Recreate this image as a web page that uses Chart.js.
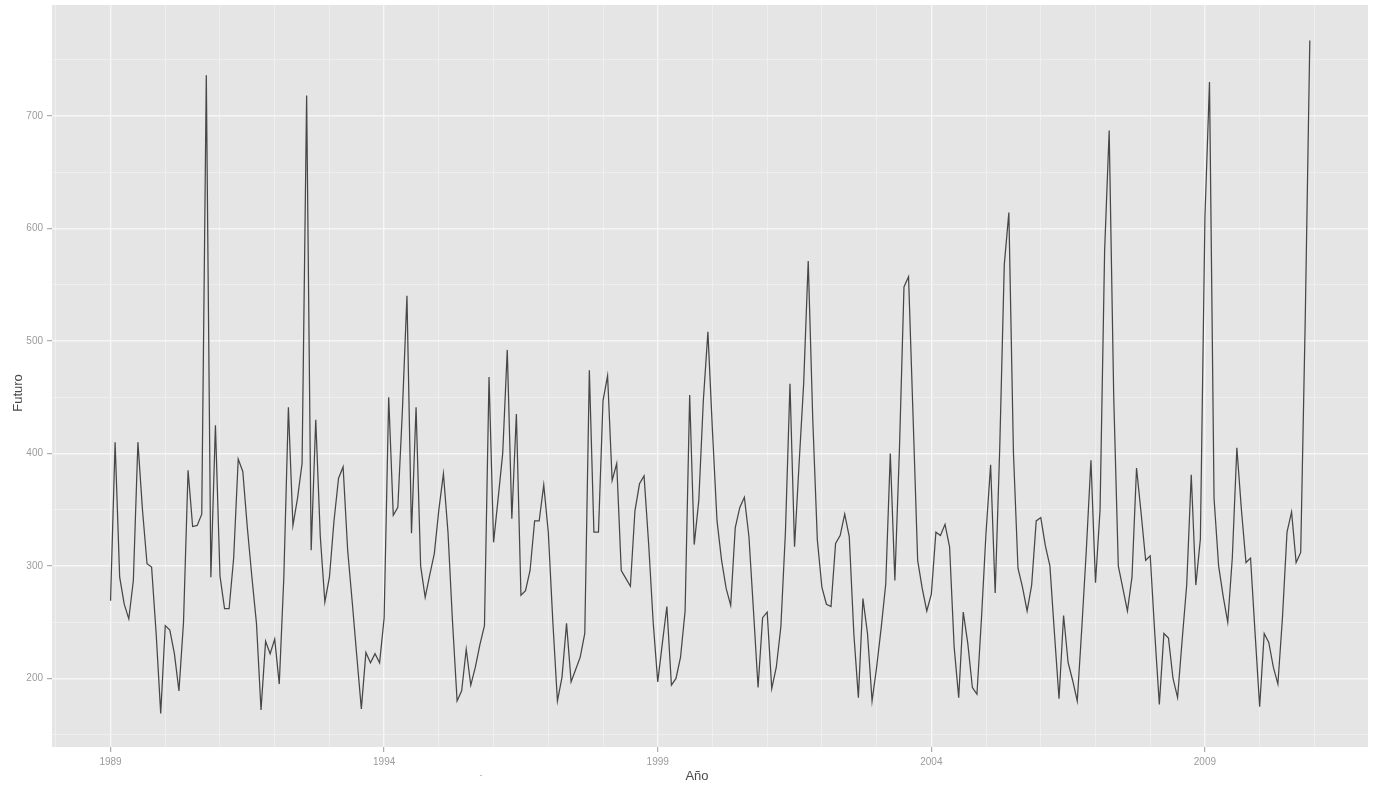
<!DOCTYPE html>
<html>
<head>
<meta charset="utf-8">
<script src="https://cdn.jsdelivr.net/npm/chart.js@4.4.0/dist/chart.umd.min.js"></script>
<style>
  html, body { margin: 0; padding: 0; background: #ffffff; }
  #wrap { width: 1375px; height: 788px; position: relative; }
</style>
</head>
<body>
<div id="wrap"><canvas id="c" width="1375" height="788"></canvas></div>
<script>
// ---- data (monthly, Jan 1989 .. Dec 2010) ----
const startYear = 1989;
const futuro = [
  269, 410, 290, 266, 253, 287, 410, 350, 302, 299, 240, 169,
  247, 243, 222, 189, 250, 385, 335, 336, 346, 736, 290, 425,
  291, 262, 262, 307, 395, 384, 334, 290, 249, 172, 233, 222,
  235, 195, 290, 441, 336, 360, 391, 718, 314, 430, 326, 268,
  290, 340, 378, 388, 314, 268, 220, 173, 223, 214, 222, 214,
  254, 450, 345, 352, 438, 540, 329, 441, 300, 272, 292, 311,
  350, 382, 330, 250, 180, 189, 226, 194, 210, 230, 247, 468,
  321, 360, 400, 492, 342, 435, 274, 278, 296, 340, 340, 372,
  330, 250, 180, 201, 249, 197, 208, 219, 240, 474, 330, 330,
  447, 469, 376, 391, 296, 289, 282, 349, 373, 380, 320, 250,
  197, 231, 264, 194, 200, 219, 260, 452, 319, 358, 447, 508,
  420, 340, 305, 280, 265, 334, 352, 361, 326, 260, 192, 254,
  259, 191, 210, 246, 330, 462, 317, 391, 462, 571, 430, 323,
  281, 266, 264, 320, 327, 346, 326, 240, 183, 271, 240, 180,
  210, 245, 284, 400, 287, 403, 548, 557, 432, 305, 280, 260,
  275, 330, 327, 337, 317, 228, 183, 259, 231, 192, 186, 254,
  330, 390, 276, 405, 568, 614, 401, 298, 281, 260, 283, 340,
  343, 318, 300, 240, 182, 256, 214, 198, 180, 245, 315, 394,
  285, 350, 580, 687, 450, 300, 280, 260, 290, 387, 347, 305,
  309, 240, 177, 240, 236, 200, 183, 234, 283, 381, 283, 324,
  610, 730, 360, 300, 273, 250, 307, 405, 350, 303, 307, 240,
  175, 240, 232, 210, 195, 254, 330, 348, 303, 312, 520, 767
];
const xLabelYears = [1989, 1994, 1999, 2004, 2009];
const xGridYears = [1988, 1989, 1990, 1991, 1992, 1993, 1994, 1995, 1996, 1997, 1998, 1999,
                    2000, 2001, 2002, 2003, 2004, 2005, 2006, 2007, 2008, 2009, 2010, 2011];
const yLabelValues = [200, 300, 400, 500, 600, 700];
const yGridValues = [150, 200, 250, 300, 350, 400, 450, 500, 550, 600, 650, 700, 750];
const xTitle = 'Año';
const yTitle = 'Futuro';

const points = futuro.map((v, i) => ({ x: startYear + i / 12, y: v }));

const panelBg = {
  id: 'panelBg',
  beforeDraw(chart) {
    const { ctx, chartArea: a } = chart;
    ctx.save();
    ctx.fillStyle = '#e5e5e5';
    ctx.fillRect(a.left, a.top, a.right - a.left, a.bottom - a.top);
    ctx.restore();
  }
};

// axis titles (placed as in the reference, slightly off-centre)
const axisTitles = {
  id: 'axisTitles',
  afterDraw(chart) {
    const { ctx, chartArea: a } = chart;
    ctx.save();
    ctx.fillStyle = '#4a4a4a';
    ctx.font = '13px "Liberation Sans", Arial, sans-serif';
    ctx.textAlign = 'center';
    ctx.textBaseline = 'middle';
    ctx.fillText(xTitle, (a.left + a.right) / 2 - 13, a.bottom + 29);
    ctx.translate(18, (a.top + a.bottom) / 2 + 17);
    ctx.rotate(-Math.PI / 2);
    ctx.fillText(yTitle, 0, 0);
    ctx.restore();
    ctx.save();
    ctx.fillStyle = '#aaaaaa';
    ctx.font = '9px "Liberation Sans", Arial, sans-serif';
    ctx.textAlign = 'center';
    ctx.textBaseline = 'middle';
    ctx.fillText('-', 481, a.bottom + 29);
    ctx.restore();
  }
};

new Chart(document.getElementById('c'), {
  type: 'line',
  data: {
    datasets: [{
      data: points,
      borderColor: '#474747',
      borderWidth: 1.25,
      pointRadius: 0,
      tension: 0,
      fill: false
    }]
  },
  options: {
    responsive: false,
    animation: false,
    devicePixelRatio: 1,
    layout: { padding: { top: 5, right: 7, left: 0, bottom: 0 } },
    plugins: { legend: { display: false }, tooltip: { enabled: false } },
    scales: {
      x: {
        type: 'linear',
        min: 1987.93,
        max: 2011.98,
        afterFit(s) { s.height = 41; s.paddingLeft = 0; s.paddingRight = 0; },
        afterBuildTicks(s) { s.ticks = xGridYears.map(v => ({ value: v })); },
        border: { display: false },
        grid: {
          color: (c) => xLabelYears.includes(c.tick && c.tick.value) ? '#f6f6f6' : '#efefef',
          lineWidth: (c) => xLabelYears.includes(c.tick && c.tick.value) ? 1.4 : 1,
          tickColor: (c) => xLabelYears.includes(c.tick && c.tick.value) ? '#9a9a9a' : 'rgba(0,0,0,0)',
          tickLength: 5,
          tickWidth: 1
        },
        ticks: {
          autoSkip: false,
          maxRotation: 0,
          padding: 4,
          color: '#9b9b9b',
          font: { family: 'Liberation Sans, Arial, sans-serif', size: 10 },
          callback: (v) => xLabelYears.includes(v) ? String(v) : ''
        },
        title: { display: false }
      },
      y: {
        type: 'linear',
        min: 139.1,
        max: 798.5,
        afterFit(s) { s.width = 52; s.paddingTop = 0; s.paddingBottom = 0; },
        afterBuildTicks(s) { s.ticks = yGridValues.map(v => ({ value: v })); },
        border: { display: false },
        grid: {
          color: (c) => yLabelValues.includes(c.tick && c.tick.value) ? '#f6f6f6' : '#efefef',
          lineWidth: (c) => yLabelValues.includes(c.tick && c.tick.value) ? 1.4 : 1,
          tickColor: (c) => yLabelValues.includes(c.tick && c.tick.value) ? '#9a9a9a' : 'rgba(0,0,0,0)',
          tickLength: 5,
          tickWidth: 1
        },
        ticks: {
          autoSkip: false,
          padding: 4,
          color: '#9b9b9b',
          font: { family: 'Liberation Sans, Arial, sans-serif', size: 10 },
          callback: (v) => yLabelValues.includes(v) ? String(v) : ''
        },
        title: { display: false }
      }
    }
  },
  plugins: [panelBg, axisTitles]
});
</script>
</body>
</html>
